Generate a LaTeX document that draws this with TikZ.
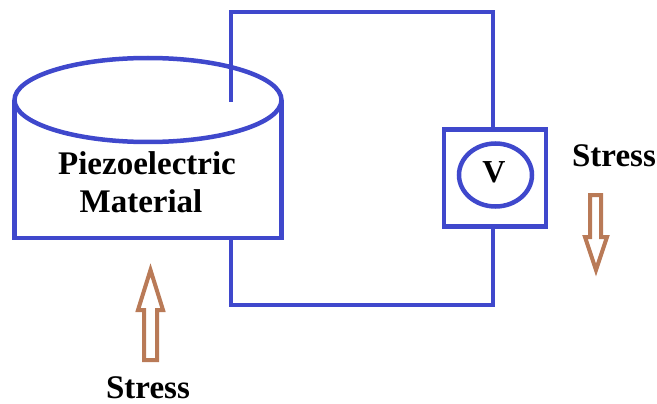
\documentclass[tikz,border=0pt]{standalone}
\usepackage{fontspec}
\setmainfont{Liberation Serif}
\usetikzlibrary{shapes.geometric}

\definecolor{wireblue}{HTML}{3F48CC}
\definecolor{stressbrown}{HTML}{B97A57}

\tikzset{
    wire/.style={draw=wireblue,line width=4.5pt,outer sep=0pt},
    stressarrow/.style={draw=stressbrown,line width=4pt,line join=miter},
    lbl/.style={font=\fontsize{33}{38}\selectfont\bfseries,inner sep=0pt,anchor=base}
}

\begin{document}
\begin{tikzpicture}[x=1pt,y=-1pt]
    \useasboundingbox (0,0) rectangle (657,404);

    % 圆柱体
    \node[wire,ellipse,inner sep=0pt,minimum width=267pt,minimum height=84pt] (disc) at (148,100) {};
    \draw[wire,line join=miter] (disc.west) -- (14.5,238) -- (281.5,238) -- (disc.east);
    \node[lbl] (piezo) at (147,175) {Piezoelectric};
    \node[lbl] (material) at (141,212) {Material};

    % 电压表
    \node[wire,inner sep=0pt,minimum width=102pt,minimum height=97pt] (meter) at (495,178) {};
    \node[wire,ellipse,inner sep=0pt,minimum width=73pt,minimum height=63pt] (dial) at (495.5,175) {};
    \node[font=\fontsize{32}{36}\selectfont\bfseries,inner sep=0pt] (vlabel) at (494,172.5) {V};

    % 连线
    \coordinate (wirein) at (231,102);
    \coordinate (wireout) at (231,238);
    \coordinate (cornerA) at (231,12);
    \coordinate (cornerB) at (493,12);
    \coordinate (cornerC) at (493,305);
    \coordinate (cornerD) at (231,305);
    \draw[wire,line join=miter] (wirein) -- (cornerA) -- (cornerB) -- (cornerB |- meter.north);
    \draw[wire,line join=miter] (cornerC |- meter.south) -- (cornerC) -- (cornerD) -- (wireout);

    % 应力箭头
    \draw[stressarrow] (590,195) -- (601,195) -- (601,237) -- (607,237) -- (596,270) -- (585,237) -- (590,237) -- cycle;
    \draw[stressarrow] (144,360) -- (157,360) -- (157,310) -- (163,310) -- (150.5,270) -- (138,310) -- (144,310) -- cycle;
    \node[lbl] (stressright) at (614,166) {Stress};
    \node[lbl] (stressbottom) at (148,398) {Stress};

\end{tikzpicture}
\end{document}
